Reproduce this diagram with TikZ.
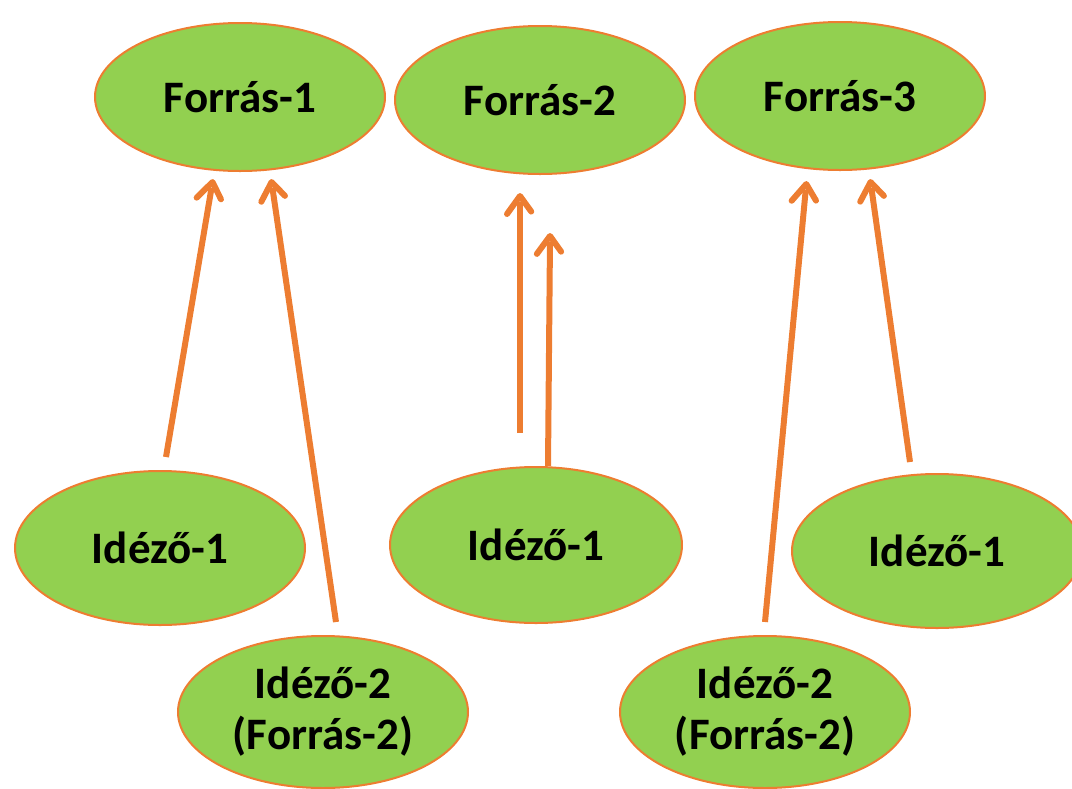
\documentclass[tikz,border=0pt]{standalone}
\usepackage{fontspec}
\setmainfont{Carlito}
\usetikzlibrary{shapes.geometric,decorations.markings}
\definecolor{lgreen}{HTML}{92D050}
\definecolor{orng}{HTML}{ED7D31}
\tikzset{
  bubble/.style={ellipse, draw=orng, line width=2pt, fill=lgreen, inner sep=0pt,
    minimum width=290pt, minimum height=148pt, align=center,
    font=\fontsize{45}{51}\selectfont\bfseries},
  link/.style={draw=orng, line width=6pt, shorten >=3pt,
    postaction={decorate, decoration={markings, mark=at position 1 with {
      \draw[orng, line width=6pt, line cap=round, line join=round]
        (-15pt,13pt) -- (3pt,0pt) -- (-15pt,-13pt);}}}}
}
\begin{document}
\begin{tikzpicture}[x=1pt,y=-1pt]
\useasboundingbox (0,0) rectangle (1072,788);
\node[bubble] (f1) at (240,97) {Forrás-1};
\node[bubble] (f2) at (540,100) {Forrás-2};
\node[bubble] (f3) at (840,96) {Forrás-3};
\node[bubble, minimum height=154pt] (i1a) at (160,548) {Idéző-1};
\node[bubble, minimum height=156pt, minimum width=292pt] (i1b) at (536,545) {Idéző-1};
\node[bubble, minimum height=154pt] (i1c) at (937,551) {Idéző-1};
\node[bubble, minimum height=152pt] (i2a) at (323,712) {Idéző-2\\(Forrás-2)};
\node[bubble, minimum height=152pt] (i2b) at (765,712) {Idéző-2\\(Forrás-2)};
\coordinate (t1) at (166,457); \coordinate (h1) at (212,185);
\coordinate (t2) at (336,622); \coordinate (h2) at (272,185);
\coordinate (t3) at (520,433); \coordinate (h3) at (520,199);
\coordinate (t4) at (548,466); \coordinate (h4) at (550,239);
\coordinate (t5) at (765,622); \coordinate (h5) at (806,187);
\coordinate (t6) at (910,462); \coordinate (h6) at (871,185);
\draw[link] (t1) -- (h1);
\draw[link] (t2) -- (h2);
\draw[link] (t3) -- (h3);
\draw[link] (t4) -- (h4);
\draw[link] (t5) -- (h5);
\draw[link] (t6) -- (h6);
\end{tikzpicture}
\end{document}
